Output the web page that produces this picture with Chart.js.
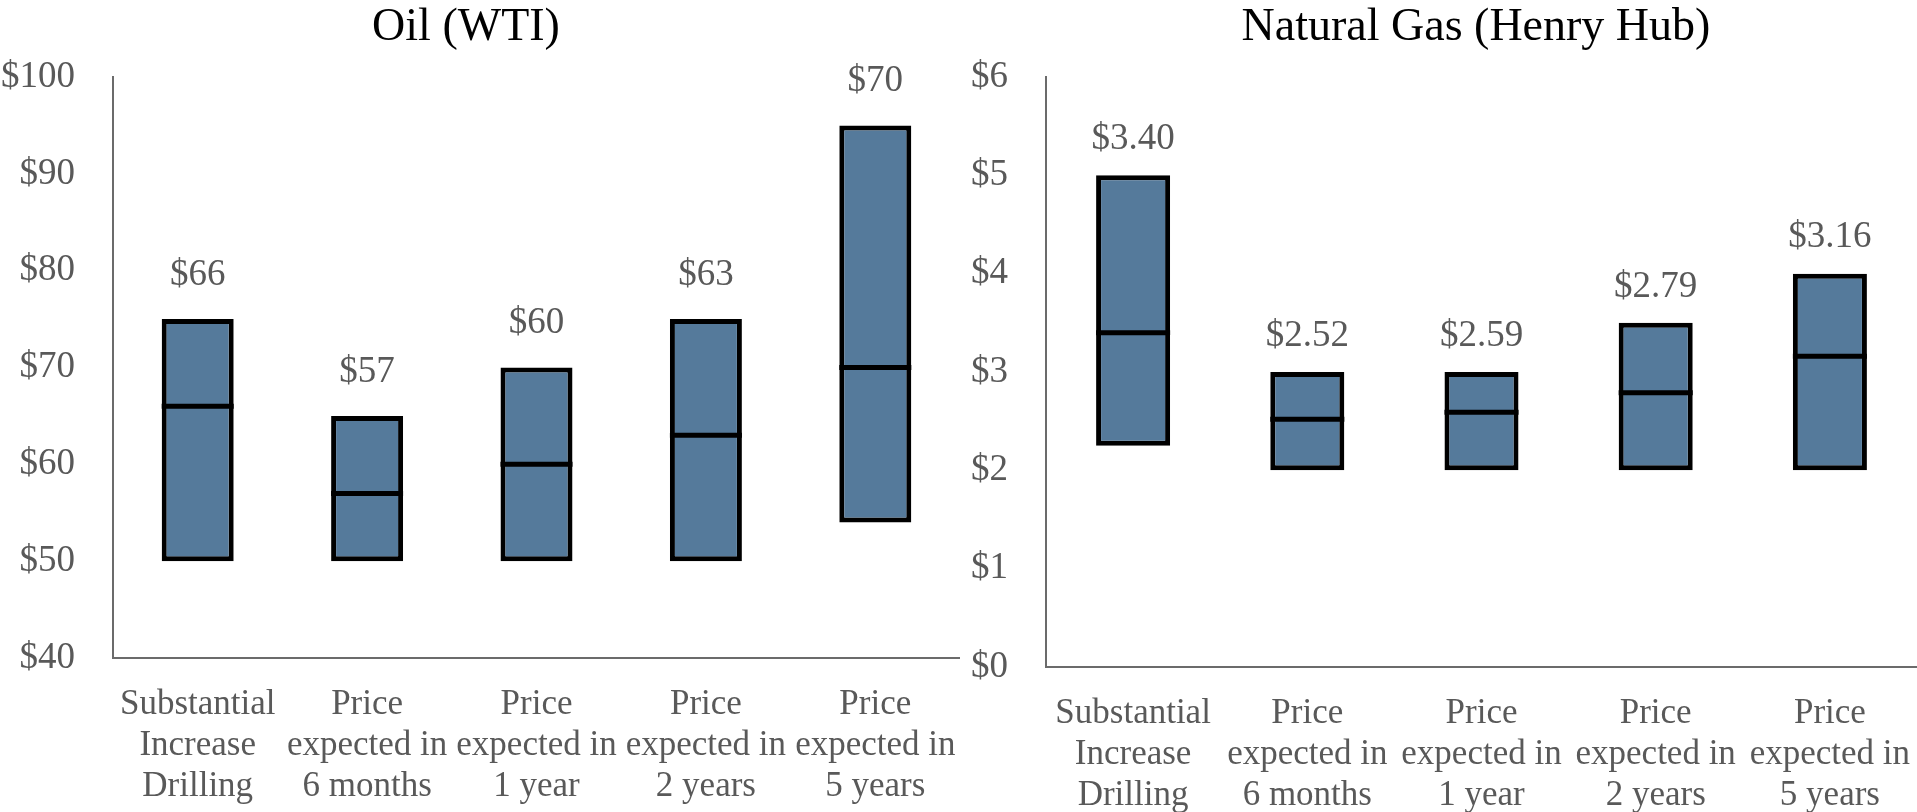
<!DOCTYPE html>
<html>
<head>
<meta charset="utf-8">
<title>Oil and natural gas price expectations</title>
<script src="https://cdn.jsdelivr.net/npm/chart.js@4/dist/chart.umd.min.js"></script>
<style>
  html, body { margin: 0; padding: 0; background: #ffffff; }
  #wrap { position: relative; width: 1917px; height: 812px; overflow: hidden; }
  #oil { position: absolute; left: 0; top: 0; }
  #gas { position: absolute; left: 960px; top: 0; }
</style>
</head>
<body>
<div id="wrap">
  <canvas id="oil" width="960" height="812"></canvas>
  <canvas id="gas" width="957" height="812"></canvas>
</div>
<script>
// Survey categories (shared by both panels)
const categories = [
  ['Substantial', 'Increase', 'Drilling'],
  ['Price', 'expected in', '6 months'],
  ['Price', 'expected in', '1 year'],
  ['Price', 'expected in', '2 years'],
  ['Price', 'expected in', '5 years']
];

// Oil (WTI), $/bbl: range low, range high, median
const oilLow = [50, 50, 50, 50, 54];
const oilHigh = [75, 65, 70, 75, 95];
const oilMedian = [66, 57, 60, 63, 70];

// Natural gas (Henry Hub), $/MMBtu: range low, range high, median
const gasLow = [2.25, 2, 2, 2, 2];
const gasHigh = [5, 3, 3, 3.5, 4];
const gasMedian = [3.40, 2.52, 2.59, 2.79, 3.16];

// Value axes
const oilAxis = { min: 40, max: 100, step: 10 };
const gasAxis = { min: 0, max: 6, step: 1 };

const FONT = '"Liberation Serif", "DejaVu Serif", serif';
const GREY = '#595959';

// Median line across each range box, plus the median value label above it
const rangeMarks = {
  id: 'rangeMarks',
  afterDatasetsDraw(chart, args, opts) {
    const meta = chart.getDatasetMeta(0);
    const yScale = chart.scales.y;
    const ctx = chart.ctx;
    ctx.save();
    meta.data.forEach((bar, i) => {
      const value = opts.median[i];
      const py = yScale.getPixelForValue(value);
      const half = bar.width / 2;
      ctx.strokeStyle = '#000000';
      ctx.lineWidth = 5;
      ctx.lineCap = 'butt';
      ctx.beginPath();
      ctx.moveTo(bar.x - half, py);
      ctx.lineTo(bar.x + half, py);
      ctx.stroke();

      const top = Math.min(bar.y, bar.base);
      ctx.fillStyle = GREY;
      ctx.font = '37px ' + FONT;
      ctx.textAlign = 'center';
      ctx.textBaseline = 'middle';
      ctx.fillText(opts.format(value), bar.x, top - opts.gap);
    });
    ctx.restore();
  }
};

// Panel heading
const panelTitle = {
  id: 'panelTitle',
  afterDraw(chart, args, opts) {
    const ctx = chart.ctx;
    ctx.save();
    ctx.fillStyle = '#000000';
    ctx.font = '46px ' + FONT;
    ctx.textAlign = 'center';
    ctx.textBaseline = 'middle';
    ctx.fillText(opts.text, opts.x, opts.y);
    ctx.restore();
  }
};

function rangeChart(id, title, titleX, low, high, median, axis, fmt, yWidth, xHeight, gap) {
  return new Chart(document.getElementById(id), {
    type: 'bar',
    data: {
      labels: categories,
      datasets: [{
        data: low.map((l, i) => [l, high[i]]),
        backgroundColor: '#557A9B',
        borderColor: '#000000',
        borderWidth: 5,
        borderSkipped: false,
        inflateAmount: 0,
        categoryPercentage: 0.425,
        barPercentage: 1
      }]
    },
    options: {
      responsive: false,
      animation: false,
      events: [],
      layout: { padding: { top: 77, right: 0, left: 0, bottom: 0 } },
      plugins: {
        legend: { display: false },
        tooltip: { enabled: false },
        title: { display: false },
        rangeMarks: { median: median, format: fmt, gap: gap },
        panelTitle: { text: title, x: titleX, y: 28 }
      },
      scales: {
        x: {
          grid: { display: false, drawTicks: false, tickLength: 0 },
          border: { display: true, color: '#6b6b6b', width: 2 },
          ticks: {
            color: GREY,
            font: { family: FONT, size: 35, lineHeight: 1.16 },
            padding: 27,
            maxRotation: 0,
            autoSkip: false
          },
          afterFit(scale) {
            scale.height = xHeight;
            // labels fit inside their categories; no side padding needed
            scale.paddingLeft = 0;
            scale.paddingRight = 0;
          }
        },
        y: {
          min: axis.min,
          max: axis.max,
          grid: { display: false, drawTicks: false, tickLength: 0 },
          border: { display: true, color: '#6b6b6b', width: 2 },
          ticks: {
            stepSize: axis.step,
            color: GREY,
            font: { family: FONT, size: 37 },
            padding: 38,
            callback: v => '$' + v
          },
          afterFit(scale) { scale.width = yWidth; }
        }
      }
    },
    plugins: [rangeMarks, panelTitle]
  });
}

rangeChart('oil', 'Oil (WTI)', 466, oilLow, oilHigh, oilMedian, oilAxis,
  v => '$' + v.toFixed(0), 113, 154, 44);
rangeChart('gas', 'Natural Gas (Henry Hub)', 516, gasLow, gasHigh, gasMedian, gasAxis,
  v => '$' + v.toFixed(2), 86, 145, 36);
</script>
</body>
</html>
